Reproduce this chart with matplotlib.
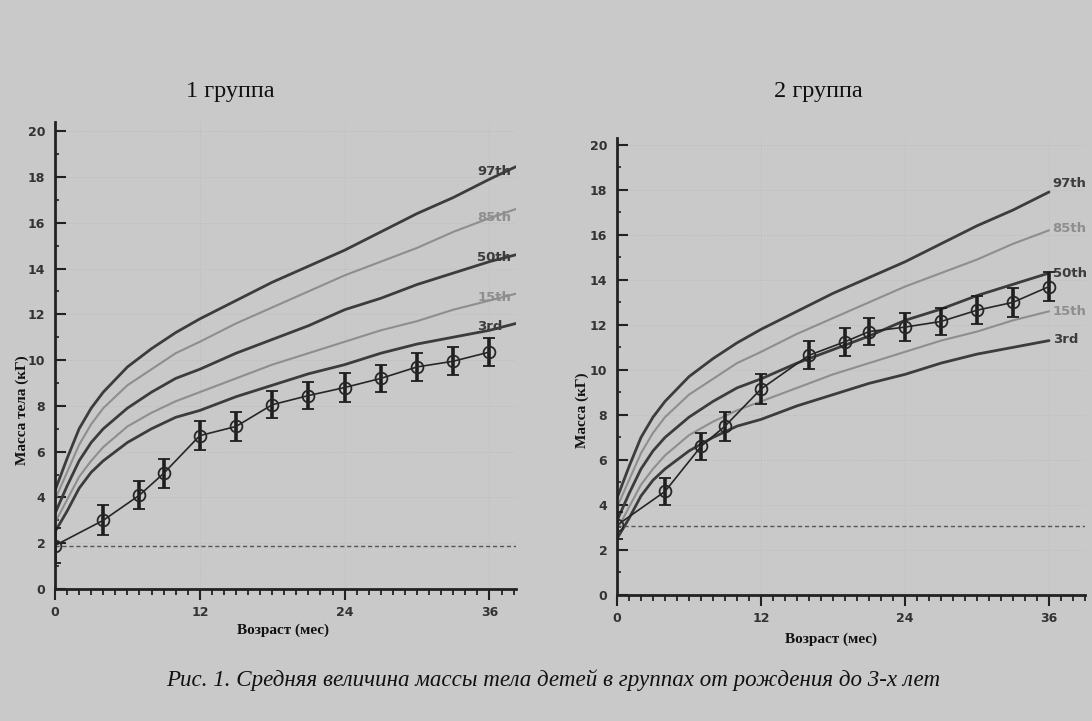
import matplotlib
matplotlib.use("Agg")
import matplotlib.pyplot as plt
from matplotlib.ticker import MultipleLocator

# ---------------- data ----------------
ref_months = [0, 1, 2, 3, 4, 6, 8, 10, 12, 15, 18, 21, 24, 27, 30, 33, 36, 38.2]
p97 = [4.3, 5.7, 7.0, 7.9, 8.6, 9.7, 10.5, 11.2, 11.8, 12.6, 13.4, 14.1, 14.8, 15.6, 16.4, 17.1, 17.9, 18.45]
p85 = [3.9, 5.1, 6.3, 7.2, 7.9, 8.9, 9.6, 10.3, 10.8, 11.6, 12.3, 13.0, 13.7, 14.3, 14.9, 15.6, 16.2, 16.6]
p50 = [3.3, 4.5, 5.6, 6.4, 7.0, 7.9, 8.6, 9.2, 9.6, 10.3, 10.9, 11.5, 12.2, 12.7, 13.3, 13.8, 14.3, 14.6]
p15 = [2.9, 3.9, 4.9, 5.6, 6.2, 7.1, 7.7, 8.2, 8.6, 9.2, 9.8, 10.3, 10.8, 11.3, 11.7, 12.2, 12.6, 12.9]
p3 = [2.5, 3.4, 4.4, 5.1, 5.6, 6.4, 7.0, 7.5, 7.8, 8.4, 8.9, 9.4, 9.8, 10.3, 10.7, 11.0, 11.3, 11.6]
pct_labels = ["97th", "85th", "50th", "15th", "3rd"]

months1 = [0, 4, 7, 9, 12, 15, 18, 21, 24, 27, 30, 33, 36]
mass1 = [1.9, 3.0, 4.1, 5.05, 6.7, 7.1, 8.05, 8.45, 8.8, 9.2, 9.7, 9.95, 10.35]
err1 = [0.75, 0.65, 0.62, 0.63, 0.63, 0.63, 0.6, 0.6, 0.62, 0.6, 0.63, 0.6, 0.6]
ref_line1 = 1.9

months2 = [0, 4, 7, 9, 12, 16, 19, 21, 24, 27, 30, 33, 36]
mass2 = [3.1, 4.6, 6.6, 7.5, 9.15, 10.65, 11.25, 11.7, 11.9, 12.15, 12.65, 13.0, 13.7]
err2 = [0.6, 0.6, 0.6, 0.65, 0.65, 0.63, 0.63, 0.6, 0.62, 0.62, 0.63, 0.63, 0.64]
ref_line2 = 3.05

titles = ["1 группа", "2 группа"]
ylabels = ["Масса тела (кГ)", "Масса (кГ)"]
xlabel = "Возраст (мес)"
caption = "Рис. 1. Средняя величина массы тела детей в группах от рождения до 3-х лет"
xticks = [0, 12, 24, 36]
yticks = [0, 2, 4, 6, 8, 10, 12, 14, 16, 18, 20]

# ---------------- style ----------------
BG = "#c9c9c9"
DARK = "#3c3c3c"
LIGHT = "#8e8e8e"
pct_colors = [DARK, LIGHT, DARK, LIGHT, DARK]
pct_widths = [2.0, 1.5, 2.0, 1.5, 2.0]
pct_series = [p97, p85, p50, p15, p3]

fig = plt.figure(figsize=(10.92, 7.21), dpi=100, facecolor=BG)

def style_axes(ax, xmax, ymax):
    ax.set_facecolor(BG)
    ax.set_xlim(0, xmax)
    ax.set_ylim(0, ymax)
    for s in ["top", "right"]:
        ax.spines[s].set_visible(False)
    for s in ["left", "bottom"]:
        ax.spines[s].set_linewidth(2.0)
        ax.spines[s].set_color("#222222")
    ax.set_xticks(xticks)
    ax.set_yticks(yticks)
    ax.xaxis.set_minor_locator(MultipleLocator(1))
    ax.yaxis.set_minor_locator(MultipleLocator(1))
    ax.tick_params(axis="x", which="major", direction="out", length=8, width=1.5,
                   color="#222222", labelsize=9, labelcolor="#333333", pad=4)
    ax.tick_params(axis="x", which="minor", direction="out", length=4, width=1.3,
                   color="#222222")
    ax.tick_params(axis="y", which="major", direction="in", length=8, width=1.5,
                   color="#222222", labelsize=9, labelcolor="#333333", pad=7)
    ax.tick_params(axis="y", which="minor", direction="in", length=3, width=1.2,
                   color="#222222")
    for lab in ax.get_xticklabels() + ax.get_yticklabels():
        lab.set_fontweight("bold")
    ax.grid(True, which="major", color="#bcbcbc", linestyle=":", linewidth=0.7)
    ax.set_axisbelow(True)


def draw_panel(ax, months, mass, err, refy, xmax, ymax, pct_end, label_x, label_dy, label_ha):
    style_axes(ax, xmax, ymax)
    n = pct_end
    for ser, col, lw, lab, dy in zip(pct_series, pct_colors, pct_widths, pct_labels, label_dy):
        ax.plot(ref_months[:n], ser[:n], color=col, lw=lw, zorder=2, solid_capstyle="round")
        ax.text(label_x, ser[n - 1] + dy, lab, color=col, fontsize=9.5, fontweight="bold",
                ha=label_ha, va="center", zorder=4, family="DejaVu Sans")
    ax.axhline(refy, color="#555555", lw=1.0, ls=(0, (3, 2)), zorder=2)
    ax.errorbar(months, mass, yerr=err, fmt="-o", color="#262626", lw=1.2,
                ecolor="#1e1e1e", elinewidth=2.6, capsize=4, capthick=1.6,
                markersize=8.5, markerfacecolor="none", markeredgecolor="#262626",
                markeredgewidth=1.3, zorder=5)


ax1 = fig.add_axes([55 / 1092, (721 - 589) / 721, (516 - 55) / 1092, (589 - 122) / 721])
draw_panel(ax1, months1, mass1, err1, ref_line1, 38.2, 20.4, len(ref_months),
           35.0, [-0.2, -0.35, -0.1, -0.15, -0.15], "left")

ax2 = fig.add_axes([617 / 1092, (721 - 595) / 721, (1085 - 617) / 1092, (595 - 138) / 721])
draw_panel(ax2, months2, mass2, err2, ref_line2, 39.0, 20.3, len(ref_months) - 1,
           36.3, [0.4, 0.1, 0.0, 0.0, 0.05], "left")

# titles
fig.text(230 / 1092, 1 - 92 / 721, titles[0], ha="center", va="center",
         fontsize=17.5, family="Liberation Serif", color="#111111")
fig.text(818 / 1092, 1 - 92 / 721, titles[1], ha="center", va="center",
         fontsize=17.5, family="Liberation Serif", color="#111111")

# axis labels
fig.text(22 / 1092, 1 - 410 / 721, ylabels[0], rotation=90, ha="center", va="center",
         fontsize=11, fontweight="bold", family="Liberation Serif", color="#111111")
fig.text(582 / 1092, 1 - 410 / 721, ylabels[1], rotation=90, ha="center", va="center",
         fontsize=11, fontweight="bold", family="Liberation Serif", color="#111111")
fig.text(283 / 1092, 1 - 630 / 721, xlabel, ha="center", va="center",
         fontsize=11, fontweight="bold", family="Liberation Serif", color="#111111")
fig.text(831 / 1092, 1 - 639 / 721, xlabel, ha="center", va="center",
         fontsize=11, fontweight="bold", family="Liberation Serif", color="#111111")

# caption
fig.text(553 / 1092, 1 - 680 / 721, caption, ha="center", va="center",
         fontsize=16.6, style="italic", family="Liberation Serif", color="#111111")

fig.savefig("out.png", dpi=100, facecolor=BG)
